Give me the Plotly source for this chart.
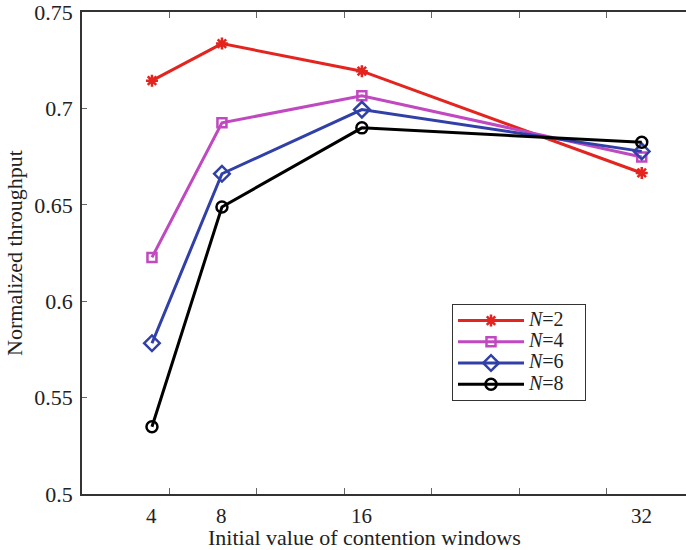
import plotly.graph_objects as go

x_vals = [4, 8, 16, 32]
x_tick_labels = ["4", "8", "16", "32"]
x_tick_marks = [5, 10, 15, 20, 25, 30]
y_ticks = [0.5, 0.55, 0.6, 0.65, 0.7, 0.75]
y_tick_text = ["0.5", "0.55", "0.6", "0.65", "0.7", "0.75"]
series_names = ["N=2", "N=4", "N=6", "N=8"]

n2 = [0.7144, 0.7336, 0.7193, 0.6665]
n4 = [0.6227, 0.6925, 0.7066, 0.6748]
n6 = [0.5782, 0.6661, 0.6994, 0.6777]
n8 = [0.5349, 0.6489, 0.6899, 0.6824]

styles = [
    ("rgb(228,36,30)", "asterisk-open", 10),
    ("rgb(192,72,192)", "square-open", 9),
    ("rgb(48,64,168)", "diamond-open", 12),
    ("rgb(0,0,0)", "circle-open", 11),
]

FONT = "Liberation Serif, Times New Roman, Times, serif"

fig = go.Figure()
for name, ys, (color, sym, sz) in zip(series_names, [n2, n4, n6, n8], styles):
    var, val = name.split("=")
    label = '<span style="font-size:20px"><i>%s</i>=%s&nbsp;&nbsp;&nbsp;</span>' % (var, val)
    fig.add_trace(go.Scatter(
        x=x_vals, y=ys, name=label, mode="lines+markers",
        line=dict(color=color, width=3),
        marker=dict(symbol=sym, size=sz, color=color, line=dict(color=color, width=2.5)),
    ))

for xv, lab in zip(x_vals, x_tick_labels):
    fig.add_annotation(x=xv, y=0, xref="x", yref="paper", text=lab,
                       showarrow=False, yanchor="top", yshift=-8,
                       font=dict(family=FONT, size=21, color="#222"))

fig.add_annotation(x=(364 - 82) / 604, y=0, xref="paper", yref="paper",
                   text="Initial value of contention windows", showarrow=False,
                   yanchor="top", yshift=-29,
                   font=dict(family=FONT, size=22, color="#222"))

fig.update_layout(
    width=686, height=550,
    margin=dict(l=82, r=0, t=12, b=56, autoexpand=False),
    paper_bgcolor="white", plot_bgcolor="white",
    font=dict(family=FONT, size=22, color="#222"),
    showlegend=True,
    legend=dict(x=(452 - 82) / 604, y=(494 - 304) / 482, xanchor="left", yanchor="top",
                bordercolor="#333", borderwidth=1, bgcolor="white",
                font=dict(family=FONT, size=14, color="#222"),
                tracegroupgap=0, itemwidth=66),
    xaxis=dict(range=[0, 34.53], tickvals=x_tick_marks, ticktext=[""] * len(x_tick_marks),
               ticks="inside", ticklen=6, tickcolor="#666", tickwidth=1,
               showline=True, linecolor="#333", linewidth=1.5, mirror="ticks",
               showgrid=False, zeroline=False, automargin=False),
    yaxis=dict(range=[0.5, 0.75], tickvals=y_ticks, ticktext=y_tick_text,
               ticks="inside", ticklen=5, tickcolor="#666", tickwidth=1,
               showline=True, linecolor="#333", linewidth=1.5, mirror=False,
               showgrid=False, zeroline=False, ticklabelstandoff=3, automargin=False,
               ticklabeloverflow="allow",
               title=dict(text="Normalized throughput", standoff=6,
                          font=dict(family=FONT, size=22, color="#222"))),
)

fig.write_html("out.html", config={"displayModeBar": False},
               post_script="document.body.style.margin='0';document.body.style.padding='0';")
